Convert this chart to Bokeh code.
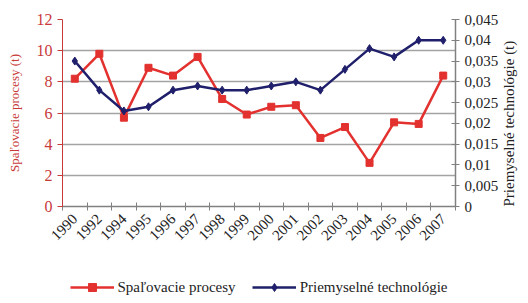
import math
from bokeh.plotting import figure
from bokeh.layouts import column
from bokeh.models import Range1d, LinearAxis, FixedTicker, Legend, LegendItem
from bokeh.embed import file_html
from bokeh.resources import INLINE

years = ["1990", "1992", "1994", "1995", "1996", "1997", "1998", "1999",
         "2000", "2001", "2002", "2003", "2004", "2005", "2006", "2007"]
spalovacie = [8.2, 9.8, 5.7, 8.9, 8.4, 9.6, 6.9, 5.9, 6.4, 6.5, 4.4, 5.1, 2.8, 5.4, 5.3, 8.4]
priemyselne = [0.035, 0.028, 0.023, 0.024, 0.028, 0.029, 0.028, 0.028,
               0.029, 0.030, 0.028, 0.033, 0.038, 0.036, 0.040, 0.040]
left_ticks = [0, 2, 4, 6, 8, 10, 12]
right_ticks = [0, 0.005, 0.01, 0.015, 0.02, 0.025, 0.03, 0.035, 0.04, 0.045]
right_tick_labels = ["0", "0,005", "0,01", "0,015", "0,02", "0,025", "0,03", "0,035", "0,04", "0,045"]
series_names = ["Spaľovacie procesy", "Priemyselné technológie"]

RED = "#e2312e"
RED_TXT = "#c8393a"
BLUE = "#1f1f6b"
FONT = "Liberation Serif"

xs = [i + 0.5 for i in range(len(years))]

p = figure(width=528, height=277, output_backend="svg", toolbar_location=None,
           x_range=Range1d(0, len(years)), y_range=Range1d(0, 12),
           min_border_left=62, min_border_right=70, min_border_top=19, min_border_bottom=71)
p.outline_line_color = None
p.background_fill_color = "white"
p.extra_y_ranges = {"r": Range1d(0, 0.045)}

# grid
p.xgrid.grid_line_color = None
p.ygrid.ticker = FixedTicker(ticks=left_ticks)
p.ygrid.grid_line_color = "#a3a3a3"
p.ygrid.grid_line_width = 1.5

# x axis
xa = p.xaxis[0]
xa.ticker = FixedTicker(ticks=xs, minor_ticks=list(range(len(years) + 1)))
xa.major_label_overrides = {x: y for x, y in zip(xs, years)}
xa.major_tick_in = 0
xa.major_tick_out = 0
xa.minor_tick_in = 4
xa.minor_tick_out = 4
xa.minor_tick_line_color = "#808080"
xa.axis_line_color = "#808080"
xa.axis_line_width = 1.5
xa.major_label_orientation = math.pi / 4
xa.major_label_text_font = FONT
xa.major_label_text_font_size = "15px"
xa.major_label_text_color = "#222222"
xa.major_label_standoff = 6

# left axis
ya = p.yaxis[0]
ya.ticker = FixedTicker(ticks=left_ticks)
ya.axis_line_color = RED_TXT
ya.major_tick_line_color = RED_TXT
ya.major_tick_in = 0
ya.major_tick_out = 5
ya.minor_tick_line_color = None
ya.major_label_text_color = RED_TXT
ya.major_label_text_font = FONT
ya.major_label_text_font_size = "16px"
ya.major_label_standoff = 5
ya.axis_label = "Spaľovacie procesy (t)"
ya.axis_label_text_color = RED_TXT
ya.axis_label_text_font = FONT
ya.axis_label_text_font_size = "13px"
ya.axis_label_text_font_style = "normal"
ya.axis_label_standoff = 12

# right axis
ra = LinearAxis(y_range_name="r", ticker=FixedTicker(ticks=right_ticks))
ra.major_label_overrides = dict(zip(right_ticks, right_tick_labels))
ra.axis_line_color = "#808080"
ra.axis_line_width = 1.5
ra.major_tick_line_color = "#808080"
ra.major_tick_in = 4
ra.major_tick_out = 4
ra.minor_tick_line_color = None
ra.major_label_text_font = FONT
ra.major_label_text_font_size = "15px"
ra.major_label_text_color = "#222222"
ra.major_label_standoff = 5
ra.axis_label = "Priemyselné technológie (t)"
ra.axis_label_text_font = FONT
ra.axis_label_text_font_size = "15px"
ra.axis_label_text_font_style = "normal"
ra.axis_label_text_color = "#222222"
ra.axis_label_standoff = 8
ra.axis_label_orientation = math.pi / 2
if hasattr(ra, "axis_label_align"):
    ra.axis_label_align = "start"
p.add_layout(ra, "right")

# series
p.line(xs, spalovacie, line_color=RED, line_width=2.5)
p.scatter(xs, spalovacie, marker="square", size=7, fill_color=RED, line_color=RED)
p.line(xs, priemyselne, line_color=BLUE, line_width=2.5, y_range_name="r")
p.scatter(xs, priemyselne, marker="diamond", size=8, fill_color=BLUE, line_color=BLUE,
          y_range_name="r")

# legend strip below the chart (its renderers hold the series but sit outside its view)
lg = figure(width=528, height=26, output_backend="svg", toolbar_location=None,
            x_range=Range1d(-2, -1), y_range=Range1d(-2, -1), min_border=0)
lg.outline_line_color = None
lg.axis.visible = False
lg.grid.visible = False
lr1 = lg.line(xs, spalovacie, line_color=RED, line_width=2.5)
lm1 = lg.scatter(xs, spalovacie, marker="square", size=7, fill_color=RED, line_color=RED)
lr2 = lg.line(xs, priemyselne, line_color=BLUE, line_width=2.5)
lm2 = lg.scatter(xs, priemyselne, marker="diamond", size=8, fill_color=BLUE, line_color=BLUE)
legend = Legend(items=[LegendItem(label=series_names[0], renderers=[lr1, lm1]),
                       LegendItem(label=series_names[1], renderers=[lr2, lm2])],
                orientation="horizontal", location="top_center",
                label_text_font=FONT, label_text_font_size="15px", label_text_color="#222222",
                glyph_width=44, label_standoff=4, spacing=16, padding=2, margin=0,
                background_fill_alpha=0, border_line_color=None)
lg.add_layout(legend, "center")

open("out.html", "w").write(file_html(column(p, lg, spacing=0), INLINE))
